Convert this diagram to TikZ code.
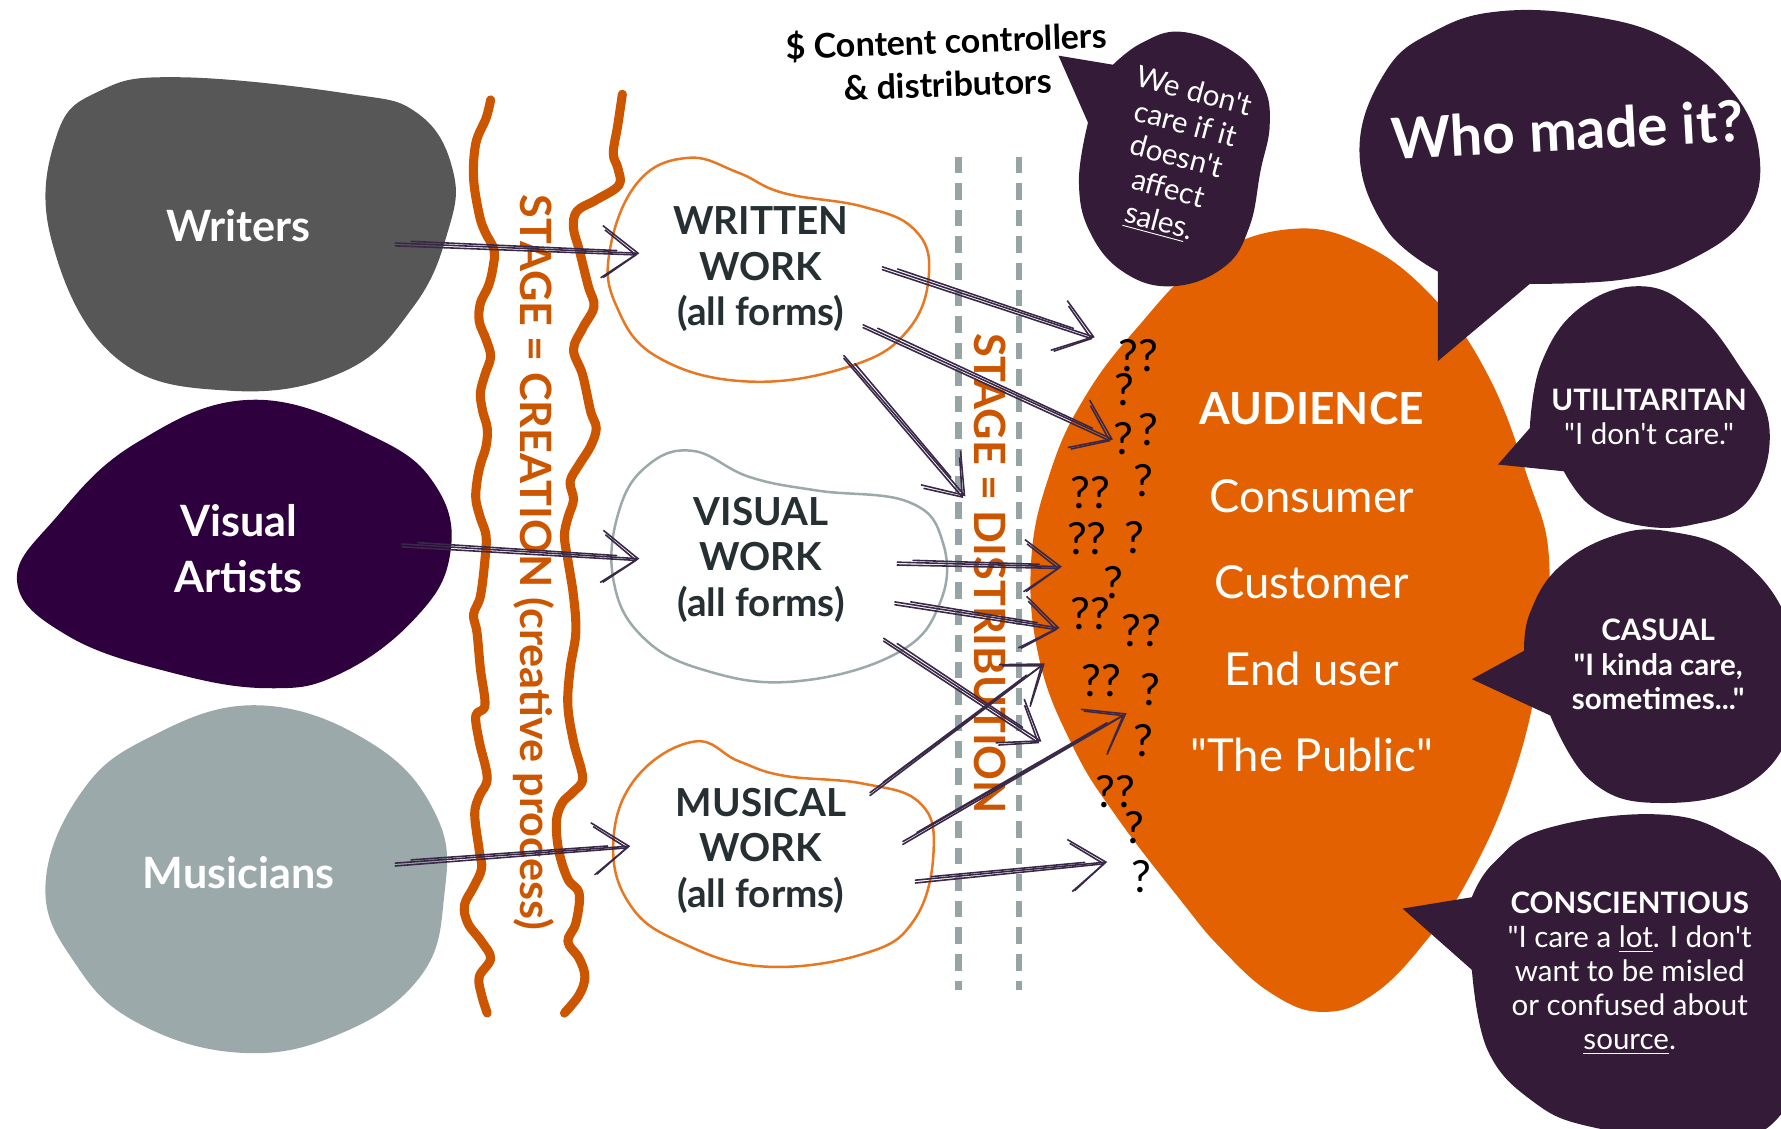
\documentclass[tikz,border=0pt]{standalone}
\usepackage{fontspec}
\setmainfont{Lato}[Ligatures=TeXOff]
\usetikzlibrary{arrows.meta,calc}
\definecolor{wgray}{HTML}{575757}
\definecolor{vpurp}{HTML}{2E003E}
\definecolor{mgray}{HTML}{9BA9AA}
\definecolor{ostage}{HTML}{CC5500}
\definecolor{oline}{HTML}{E87722}
\definecolor{aud}{HTML}{E36100}
\definecolor{bub}{HTML}{341B38}
\definecolor{dtext}{HTML}{263033}
\definecolor{arr}{HTML}{3A2848}
\definecolor{dashc}{HTML}{97A4A5}
\tikzset{
  skl/.style={draw=arr,line width=0.7pt,line cap=round,line join=round},
  wavy/.style={draw=ostage,line width=4pt,line cap=round,line join=round},
  dashln/.style={draw=dashc,line width=2.7pt,dash pattern=on 7.3pt off 4.4pt},
  bigtext/.style={text=white,font=\bfseries\fontsize{19}{25}\selectfont,align=center},
  worktext/.style={text=dtext,font=\bfseries\fontsize{17}{20}\selectfont,align=center},
  stagetext/.style={text=ostage,font=\bfseries\fontsize{19}{22}\selectfont,rotate=-90},
  audtext/.style={text=white,font=\fontsize{20}{24}\selectfont},
  qm/.style={text=black,font=\fontsize{19.5}{20}\selectfont,inner sep=0pt},
  bubtext/.style={text=white,font=\fontsize{13}{15}\selectfont,align=center},
}
\newcommand\skarrow[2]{%
  \draw[skl,-{Straight Barb[length=16pt,width=23pt]}] (#1) -- (#2);
  \draw[skl,-{Straight Barb[length=14pt,width=21pt]}] ($(#1)+(0,2.5)$) -- ($(#2)+(-2,1.5)$);
  \draw[skl,shorten >=10pt,shorten <=6pt] ($(#1)+(2,-2)$) -- ($(#2)+(0,-1.5)$);
}
\begin{document}
\begin{tikzpicture}[x=0.5pt,y=-0.5pt]
\useasboundingbox (0,0) rectangle (1568.2,994.1);
\clip (0,0) rectangle (1568.2,994.1);

% creator blobs
\fill[wgray] plot[smooth cycle,tension=0.7] coordinates {(157,68) (303,82) (368,100) (399,151) (394,205) (364,270) (303,327) (202,344) (101,314) (45,210) (50,119) (88,80)};
\fill[vpurp] plot[smooth cycle,tension=0.7] coordinates {(222,352) (330,385) (385,430) (396,490) (365,545) (300,593) (237,606) (150,592) (60,560) (15,512) (50,455) (120,390)};
\fill[mgray] plot[smooth cycle,tension=0.7] coordinates {(227,621) (328,655) (385,720) (391,790) (370,860) (300,910) (212,927) (120,900) (66,848) (40,781) (70,700) (130,650)};
\node[bigtext] (writers) at (210,199) {Writers};
\node[bigtext] (visual) at (210,483) {Visual\\Artists};
\node[bigtext] (musicians) at (210,768) {Musicians};

% creation stage wavy lines
\draw[wavy] plot[smooth,tension=0.6] coordinates {(432,88) (428,104) (419,126) (417,157) (422,189) (427,204) (435,220) (434,236) (430,252) (423,267) (422,283) (428,299) (432,314) (427,330) (423,346) (425,362) (429,377) (428,393) (423,409) (420,424) (419,440) (423,456) (428,472) (427,493) (423,525) (417,541) (420,557) (423,589) (427,621) (419,630) (422,653) (429,685) (422,701) (418,717) (422,749) (424,765) (417,781) (409,797) (412,813) (424,829) (432,844) (422,860) (424,876) (429,892)};
\draw[wavy] plot[smooth,tension=0.6] coordinates {(548,83) (544,110) (540,135) (544,148) (545,163) (525,176) (508,186) (505,201) (510,220) (518,252) (523,270) (513,289) (505,308) (513,330) (520,362) (525,377) (520,393) (510,409) (502,424) (505,440) (500,456) (497,472) (500,493) (505,525) (507,557) (502,589) (500,621) (505,653) (513,685) (505,697) (495,707) (490,723) (492,749) (500,774) (510,787) (507,813) (500,829) (510,844) (515,860) (510,876) (497,892)};
\node[stagetext] (creation) at (470,495) {STAGE = CREATION (creative process)};

% work blobs
\draw[oline,line width=1.1pt] plot[smooth cycle,tension=0.7] coordinates {(606,139) (650,152) (690,170) (760,182) (805,202) (818,240) (800,290) (750,322) (660,336) (580,315) (543,270) (537,220) (562,160)};
\draw[mgray,line width=1.1pt] plot[smooth cycle,tension=0.7] coordinates {(610,397) (660,420) (720,432) (800,442) (830,477) (828,530) (790,575) (700,600) (620,590) (565,560) (540,510) (545,450) (570,410)};
\draw[oline,line width=1.1pt] plot[smooth cycle,tension=0.7] coordinates {(611,653) (650,670) (690,683) (760,690) (810,707) (822,750) (805,810) (760,840) (672,851) (600,830) (555,797) (540,742) (560,685)};
\node[worktext] (written) at (670,237) {WRITTEN\\WORK\\(all forms)};
\node[worktext] (visualw) at (670,493) {VISUAL\\WORK\\(all forms)};
\node[worktext] (musicalw) at (670,749) {MUSICAL\\WORK\\(all forms)};

% distribution stage
\draw[dashln] (844,138) -- (844,872);
\draw[dashln] (897,138) -- (897,872);
\node[stagetext] (distribution) at (872,505) {STAGE = DISTRIBUTION};

% audience
\fill[aud] plot[smooth cycle,tension=0.7] coordinates {(1133,202) (1200,215) (1262,262) (1310,330) (1345,420) (1364,493) (1355,590) (1332,685) (1295,770) (1256,828) (1210,875) (1165,891) (1120,875) (1075,835) (1039,792) (983,719) (945,658) (915,580) (908,493) (925,415) (955,350) (1000,290) (1060,230)};
\node[text=white,font=\bfseries\fontsize{19.5}{24}\selectfont] (audience) at (1155,360) {AUDIENCE};
\node[audtext] (consumer) at (1155,437) {Consumer};
\node[audtext] (customer) at (1155,513) {Customer};
\node[audtext] (enduser) at (1155,589) {End user};
\node[audtext] (public) at (1155,665) {"The Public"};

% question marks
\node[qm] (q1) at (1002,313) {??};
\node[qm] (q2) at (990,343) {?};
\node[qm] (q3a) at (989,386) {?};
\node[qm] (q3b) at (1011,378) {?};
\node[qm] (q4) at (1007,423) {?};
\node[qm] (q5) at (960,434) {??};
\node[qm] (q6) at (957,474) {??};
\node[qm] (q7) at (999,473) {?};
\node[qm] (q8) at (980,513) {?};
\node[qm] (q9) at (960,540) {??};
\node[qm] (q10) at (1005,555) {??};
\node[qm] (q11) at (970,599) {??};
\node[qm] (q12) at (1013,607) {?};
\node[qm] (q13) at (1007,652) {?};
\node[qm] (q14) at (982,697) {??};
\node[qm] (q15) at (999,729) {?};
\node[qm] (q16) at (1005,772) {?};

% speech bubbles
\fill[bub] plot[smooth,tension=0.7] coordinates {(958,108) (950,160) (960,205) (990,240) (1033,252) (1078,235) (1100,200) (1110,150) (1118,110) (1112,75) (1085,45) (1040,28) (1005,38) (980,57)} -- (932,49) -- cycle;
\node[bubtext,rotate=-15,font=\fontsize{13}{14.8}\selectfont] (notcare) at (1036,139) {We don't\\care if it\\doesn't\\affect\\\underline{sales}.};

\fill[bub] plot[smooth,tension=0.7] coordinates {(1266,239) (1220,201) (1197,132) (1220,63) (1262,28) (1320,10) (1400,14) (1470,35) (1525,80) (1549,135) (1538,190) (1490,228) (1430,246) (1347,250)} -- (1266,318) -- cycle;
\node[text=white,font=\bfseries\fontsize{25}{30}\selectfont,rotate=3] (who) at (1380,114) {Who made it?};

\fill[bub] plot[smooth,tension=0.7] coordinates {(1347,377) (1357,320) (1390,272) (1443,252) (1490,272) (1530,320) (1558,377) (1540,440) (1490,462) (1440,462) (1400,445) (1377,415)} -- (1319,409) -- cycle;
\node[bubtext] (util) at (1452,367) {\textbf{UTILITARITAN}\\"I don't care."};

\fill[bub] plot[smooth,tension=0.7] coordinates {(1342,573) (1347,540) (1372,500) (1420,472) (1470,468) (1530,490) (1575,550) (1580,630) (1540,690) (1458,707) (1400,687) (1365,630)} -- (1296,598) -- cycle;
\node[bubtext,font=\bfseries\fontsize{13}{15}\selectfont] (casual) at (1460,585) {CASUAL\\"I kinda care,\\sometimes..."};

\fill[bub] plot[smooth,tension=0.7] coordinates {(1296,790) (1315,760) (1360,730) (1458,717) (1524,736) (1570,780) (1590,900) (1560,990) (1480,1000) (1400,992) (1350,970) (1310,925) (1296,854)} -- (1235,800) -- cycle;
\node[bubtext] (consc) at (1435,857) {\textbf{CONSCIENTIOUS}\\"I care a \underline{lot}. I don't\\want to be misled\\or confused about\\\underline{source}.};

% content controllers label
\node[text=black,font=\bfseries\fontsize{15}{19}\selectfont,align=center,rotate=2] (controllers) at (834,54) {\$ Content controllers\\\& distributors};

% arrows
\coordinate (as) at (348,214); \coordinate (ae) at (563,223);
\coordinate (bs) at (354,479); \coordinate (be) at (563,492);
\coordinate (cs) at (348,760); \coordinate (ce) at (555,745);
\coordinate (ds) at (777,235); \coordinate (de) at (964,297);
\coordinate (es) at (760,286); \coordinate (ee) at (980,387);
\coordinate (fs) at (743,313); \coordinate (fe) at (850,437);
\coordinate (gs) at (790,495); \coordinate (ge) at (935,499);
\coordinate (hs) at (788,530); \coordinate (he) at (933,553);
\coordinate (is) at (778,562); \coordinate (ie) at (917,653);
\coordinate (js) at (766,698); \coordinate (je) at (920,584);
\coordinate (ks) at (795,741); \coordinate (ke) at (992,628);
\coordinate (ls) at (806,775); \coordinate (le) at (975,759);
\skarrow{as}{ae}
\skarrow{bs}{be}
\skarrow{cs}{ce}
\skarrow{ds}{de}
\skarrow{es}{ee}
\skarrow{fs}{fe}
\skarrow{gs}{ge}
\skarrow{hs}{he}
\skarrow{is}{ie}
\skarrow{js}{je}
\skarrow{ks}{ke}
\skarrow{ls}{le}
\end{tikzpicture}
\end{document}
